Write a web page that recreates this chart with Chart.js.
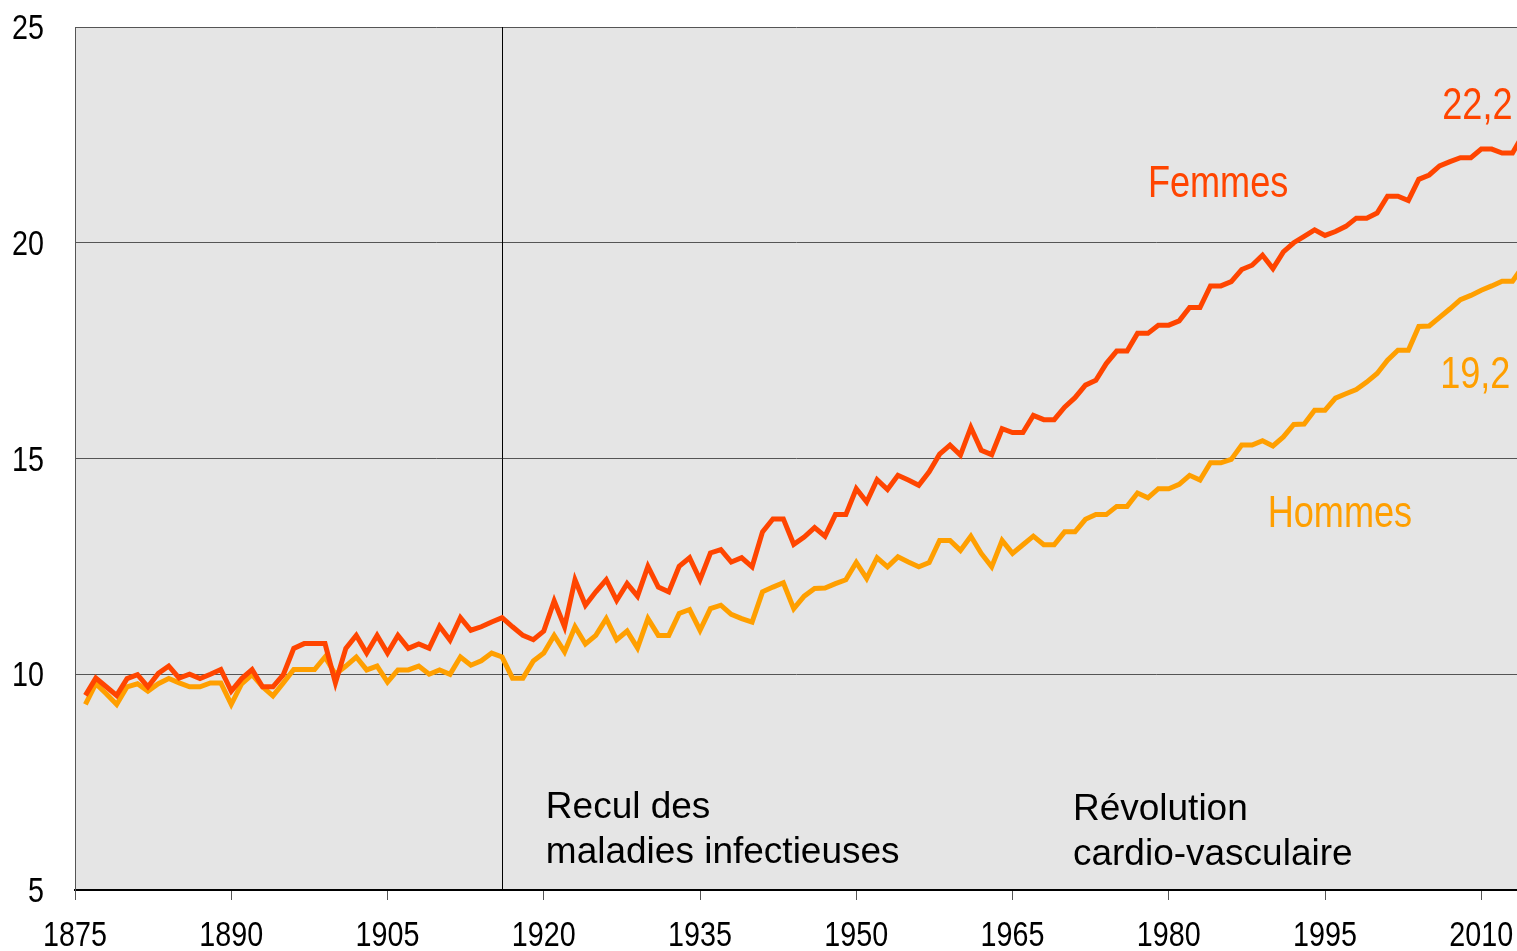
<!DOCTYPE html>
<html lang="fr">
<head>
<meta charset="utf-8">
<title>Espérance de vie</title>
<script src="https://cdn.jsdelivr.net/npm/chart.js@4/dist/chart.umd.min.js"></script>
<style>
    html, body { margin: 0; padding: 0; background: #fff; }
    #wrap { width: 1517px; height: 951px; position: relative; }
</style>
</head>
<body>
<div id="wrap"><canvas id="lifeChart" width="1517" height="951"></canvas></div>
<script>
// années (axe X)
const years = [
    1876, 1877, 1878, 1879, 1880, 1881, 1882, 1883, 1884, 1885,
    1886, 1887, 1888, 1889, 1890, 1891, 1892, 1893, 1894, 1895,
    1896, 1897, 1898, 1899, 1900, 1901, 1902, 1903, 1904, 1905,
    1906, 1907, 1908, 1909, 1910, 1911, 1912, 1913, 1914, 1915,
    1916, 1917, 1918, 1919, 1920, 1921, 1922, 1923, 1924, 1925,
    1926, 1927, 1928, 1929, 1930, 1931, 1932, 1933, 1934, 1935,
    1936, 1937, 1938, 1939, 1940, 1941, 1942, 1943, 1944, 1945,
    1946, 1947, 1948, 1949, 1950, 1951, 1952, 1953, 1954, 1955,
    1956, 1957, 1958, 1959, 1960, 1961, 1962, 1963, 1964, 1965,
    1966, 1967, 1968, 1969, 1970, 1971, 1972, 1973, 1974, 1975,
    1976, 1977, 1978, 1979, 1980, 1981, 1982, 1983, 1984, 1985,
    1986, 1987, 1988, 1989, 1990, 1991, 1992, 1993, 1994, 1995,
    1996, 1997, 1998, 1999, 2000, 2001, 2002, 2003, 2004, 2005,
    2006, 2007, 2008, 2009, 2010, 2011, 2012, 2013, 2014
];

// Femmes
const femmes = [
    9.51, 9.91, 9.71, 9.51, 9.90, 9.99, 9.71, 10.02, 10.19, 9.91,
    10.0, 9.90, 10.0, 10.11, 9.61, 9.90, 10.11, 9.71, 9.71, 9.99,
    10.6, 10.71, 10.71, 10.71, 9.80, 10.6, 10.9, 10.49, 10.9, 10.49,
    10.9, 10.6, 10.7, 10.6, 11.11, 10.79, 11.31, 11.02, 11.1, 11.21,
    11.31, 11.1, 10.9, 10.8, 11.0, 11.7, 11.1, 12.19, 11.6, 11.91,
    12.19, 11.71, 12.1, 11.81, 12.5, 12.02, 11.91, 12.5, 12.7, 12.19,
    12.81, 12.89, 12.6, 12.7, 12.49, 13.3, 13.6, 13.6, 13.01, 13.18,
    13.4, 13.2, 13.7, 13.7, 14.3, 13.99, 14.51, 14.28, 14.61, 14.5,
    14.38, 14.69, 15.1, 15.31, 15.08, 15.72, 15.19, 15.09, 15.69, 15.6,
    15.6, 16.0, 15.9, 15.9, 16.19, 16.41, 16.7, 16.81, 17.2, 17.49,
    17.49, 17.9, 17.9, 18.09, 18.09, 18.19, 18.5, 18.5, 19.0, 19.0,
    19.1, 19.38, 19.48, 19.71, 19.4, 19.79, 20.0, 20.15, 20.3, 20.17,
    20.26, 20.38, 20.57, 20.57, 20.69, 21.08, 21.08, 20.98, 21.47, 21.57,
    21.78, 21.88, 21.97, 21.97, 22.17, 22.17, 22.08, 22.08, 22.5
];

// Hommes
const hommes = [
    9.3, 9.78, 9.55, 9.3, 9.71, 9.78, 9.61, 9.78, 9.9, 9.8,
    9.71, 9.71, 9.8, 9.8, 9.3, 9.78, 9.99, 9.71, 9.5, 9.8,
    10.11, 10.11, 10.11, 10.4, 10.0, 10.19, 10.4, 10.1, 10.19, 9.82,
    10.1, 10.1, 10.19, 10.0, 10.1, 10.0, 10.4, 10.21, 10.31, 10.49,
    10.4, 9.91, 9.91, 10.31, 10.49, 10.9, 10.52, 11.1, 10.7, 10.9,
    11.29, 10.8, 11.0, 10.61, 11.29, 10.9, 10.9, 11.41, 11.5, 11.02,
    11.52, 11.6, 11.39, 11.29, 11.21, 11.91, 12.02, 12.12, 11.52, 11.81,
    11.99, 12.0, 12.1, 12.19, 12.59, 12.22, 12.7, 12.49, 12.72, 12.6,
    12.49, 12.59, 13.1, 13.1, 12.87, 13.2, 12.8, 12.49, 13.1, 12.8,
    13.0, 13.2, 13.0, 13.0, 13.3, 13.3, 13.59, 13.7, 13.7, 13.89,
    13.89, 14.2, 14.09, 14.3, 14.3, 14.4, 14.61, 14.5, 14.9, 14.9,
    14.98, 15.31, 15.31, 15.41, 15.29, 15.5, 15.79, 15.8, 16.12, 16.12,
    16.4, 16.5, 16.6, 16.77, 16.97, 17.28, 17.51, 17.51, 18.06, 18.07,
    18.27, 18.47, 18.68, 18.78, 18.9, 19.0, 19.11, 19.11, 19.45
];

// graduations
const xTicks = [1875, 1890, 1905, 1920, 1935, 1950, 1965, 1980, 1995, 2010];
const yTicks = [5, 10, 15, 20, 25];

const RED = '#ff4500';
const ORANGE = '#ff9f00';
const SANS = '"Liberation Sans", Arial, sans-serif';
const NARROW_X = 0.82; // police "étroite" : Arial compressé horizontalement

// texte compressé horizontalement (façon Arial Narrow)
function narrowText(ctx, text, x, y, align) {
    ctx.save();
    ctx.translate(x, y);
    ctx.scale(NARROW_X, 1);
    ctx.textAlign = align;
    ctx.fillText(text, 0, 0);
    ctx.restore();
}

// fond gris de la zone de tracé + ligne verticale 1916
const plotDecor = {
    id: 'plotDecor',
    beforeDraw(chart) {
        const { ctx, chartArea: a } = chart;
        ctx.save();
        ctx.fillStyle = '#e5e5e5';
        ctx.fillRect(a.left, a.top, a.right - a.left, a.bottom - a.top);
        ctx.restore();
    },
    beforeDatasetsDraw(chart) {
        const { ctx, chartArea: a, scales } = chart;
        const x = Math.round(scales.x.getPixelForValue(1916)) + 0.5;
        ctx.save();
        ctx.strokeStyle = '#000';
        ctx.lineWidth = 1;
        ctx.beginPath();
        ctx.moveTo(x, a.top);
        ctx.lineTo(x, a.bottom);
        ctx.stroke();
        ctx.restore();
    }
};

// étiquettes des axes (police étroite)
const axisLabels = {
    id: 'axisLabels',
    afterDraw(chart) {
        const { ctx, chartArea: a, scales } = chart;
        ctx.save();
        ctx.fillStyle = '#000';
        ctx.font = '35px ' + SANS;
        ctx.textBaseline = 'alphabetic';
        xTicks.forEach(v => {
            narrowText(ctx, String(v), scales.x.getPixelForValue(v), a.bottom + 56, 'center');
        });
        yTicks.forEach(v => {
            narrowText(ctx, String(v), a.left - 31, scales.y.getPixelForValue(v) + 12, 'right');
        });
        ctx.restore();
    }
};

// textes dans le graphique (x = année, y = valeur, ligne de base)
const labels = [
    { text: 'Femmes', x: 1978.0, y: 21.05, color: RED, size: 44, narrow: true, align: 'left' },
    { text: '22,2', x: 2013.0, y: 22.86, color: RED, size: 44, narrow: true, align: 'right' },
    { text: '19,2', x: 2012.8, y: 16.63, color: ORANGE, size: 44, narrow: true, align: 'right' },
    { text: 'Hommes', x: 1989.5, y: 13.41, color: ORANGE, size: 44, narrow: true, align: 'left' },
    { text: 'Recul des', x: 1920.2, y: 6.66, color: '#000', size: 37, narrow: false, align: 'left' },
    { text: 'maladies infectieuses', x: 1920.2, y: 5.62, color: '#000', size: 37, narrow: false, align: 'left' },
    { text: 'Révolution', x: 1970.8, y: 6.62, color: '#000', size: 37, narrow: false, align: 'left' },
    { text: 'cardio-vasculaire', x: 1970.8, y: 5.57, color: '#000', size: 37, narrow: false, align: 'left' }
];

const textLabels = {
    id: 'textLabels',
    afterDatasetsDraw(chart) {
        const { ctx, scales } = chart;
        ctx.save();
        ctx.textBaseline = 'alphabetic';
        labels.forEach(l => {
            const px = scales.x.getPixelForValue(l.x);
            const py = scales.y.getPixelForValue(l.y);
            ctx.font = l.size + 'px ' + SANS;
            ctx.fillStyle = l.color;
            if (l.narrow) {
                narrowText(ctx, l.text, px, py, l.align);
            } else {
                ctx.textAlign = l.align;
                ctx.fillText(l.text, px, py);
            }
        });
        ctx.restore();
    }
};

function initChart() {
    const ctx = document.getElementById('lifeChart').getContext('2d');

    new Chart(ctx, {
        type: 'line',
        data: {
            labels: years,
            datasets: [
                {
                    label: 'Femmes',
                    data: years.map((yr, i) => ({ x: yr, y: femmes[i] })),
                    borderColor: RED,
                    borderWidth: 5,
                    pointRadius: 0,
                    tension: 0
                },
                {
                    label: 'Hommes',
                    data: years.map((yr, i) => ({ x: yr, y: hommes[i] })),
                    borderColor: ORANGE,
                    borderWidth: 5,
                    pointRadius: 0,
                    tension: 0
                }
            ]
        },
        options: {
            responsive: false,
            animation: false,
            layout: { padding: { top: 27, right: 0, left: 0, bottom: 0 } },
            plugins: {
                legend: { display: false },
                tooltip: { enabled: false }
            },
            scales: {
                x: {
                    type: 'linear',
                    min: 1875,
                    max: 2013.43,
                    afterBuildTicks: scale => {
                        scale.ticks = xTicks.map(v => ({ value: v }));
                    },
                    afterFit: scale => { scale.height = 61; },
                    ticks: { display: false },
                    grid: {
                        drawOnChartArea: false,
                        drawTicks: true,
                        tickLength: 10,
                        color: '#555'
                    },
                    border: { color: '#000', width: 2 }
                },
                y: {
                    min: 5,
                    max: 25,
                    afterBuildTicks: scale => {
                        scale.ticks = yTicks.map(v => ({ value: v }));
                    },
                    afterFit: scale => { scale.width = 75; },
                    ticks: { display: false },
                    grid: {
                        drawTicks: false,
                        color: c => (c.tick && c.tick.value === 5) ? 'rgba(0,0,0,0)' : '#555',
                        lineWidth: 1
                    },
                    border: { color: '#555', width: 1 }
                }
            }
        },
        plugins: [plotDecor, axisLabels, textLabels]
    });
}

initChart();
</script>
</body>
</html>
